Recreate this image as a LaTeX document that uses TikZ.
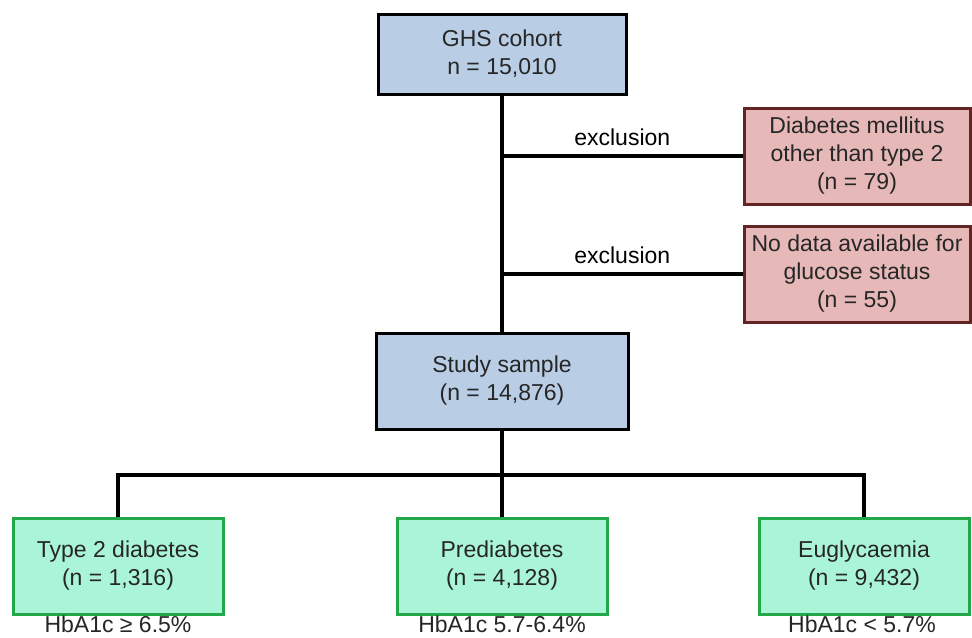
\documentclass[tikz,border=0pt]{standalone}
\usepackage{fontspec}
\setmainfont{Liberation Sans}
\usetikzlibrary{positioning}
\definecolor{cohortfill}{HTML}{B9CDE5}
\definecolor{exclfill}{HTML}{E6B9B8}
\definecolor{excldraw}{HTML}{632523}
\definecolor{groupfill}{HTML}{AAF5D8}
\definecolor{groupdraw}{HTML}{22A84A}
\begin{document}
\begin{tikzpicture}[x=0.5pt, y=-0.5pt, font=\fontsize{11.5}{14}\selectfont, text=black!85, box/.style={draw=black, line width=1.5pt, align=center, inner sep=0pt}, main/.style={box, fill=cohortfill, minimum width=124pt, minimum height=40pt}, excl/.style={box, draw=excldraw, fill=exclfill, minimum width=113pt, minimum height=48pt}, group/.style={box, draw=groupdraw, fill=groupfill, minimum width=105pt, minimum height=48pt}, conn/.style={line width=2pt, black}, lbl/.style={inner sep=1pt}]
\useasboundingbox (0,0) rectangle (972,637);
\node[main] (ghs) at (502,54) {GHS cohort\\n = 15,010}; \node[main, minimum width=126pt, minimum height=48pt] (study) at (502,381) {Study sample\\(n = 14,876)};
\node[excl] (other) at (857,156) {Diabetes mellitus\\other than type 2\\(n = 79)}; \node[excl] (nodata) at (857,274) {No data available for\\glucose status\\(n = 55)};
\node[group] (t2d) at (118,566) {Type 2 diabetes\\(n = 1,316)}; \node[group] (pre) at (502,566) {Prediabetes\\(n = 4,128)}; \node[group] (eug) at (864,566) {Euglycaemia\\(n = 9,432)};
\node[lbl] (t2dlbl) at (118,624) {HbA1c ≥ 6.5\%}; \node[lbl] (prelbl) at (502,624) {HbA1c 5.7-6.4\%}; \node[lbl] (euglbl) at (862,624) {HbA1c < 5.7\%};
\coordinate (split) at (502,475);
\draw[conn] (ghs.south) -- (study.north); \draw[conn] (ghs.south |- other.west) -- node[lbl, above=3pt] {exclusion} (other.west); \draw[conn] (ghs.south |- nodata.west) -- node[lbl, above=3pt] {exclusion} (nodata.west);
\draw[conn] (study.south) -- (split); \draw[conn] (t2d.north) |- (split) -| (eug.north); \draw[conn] (split) -- (pre.north);
\end{tikzpicture}
\end{document}
